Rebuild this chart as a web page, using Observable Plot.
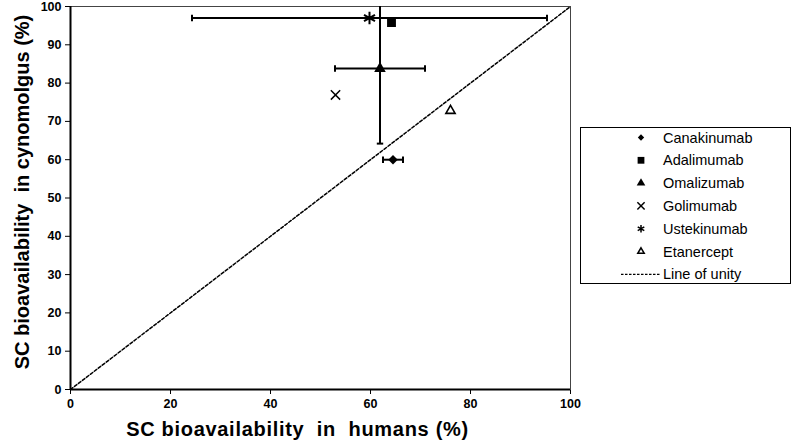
<!DOCTYPE html>
<html>
<head>
<meta charset="utf-8">
<script src="https://cdn.jsdelivr.net/npm/d3@7"></script>
<script src="https://cdn.jsdelivr.net/npm/@observablehq/plot@0.6"></script>
<style>
  html, body { margin: 0; padding: 0; background: #fff; }
  #wrap { position: relative; width: 793px; height: 446px; font-family: "Liberation Sans", Arial, sans-serif; }
  #wrap svg.plot text { white-space: pre; font-weight: bold; }
  #legend { position: absolute; left: 580px; top: 127px; width: 209px; height: 155px; border: 1.5px solid #000; box-sizing: content-box; }
  #legend svg { position: absolute; left: 0; top: 0; }
</style>
</head>
<body>
<div id="wrap"></div>
<script>
// ---- data ----
const drugs = ["Canakinumab", "Adalimumab", "Omalizumab", "Golimumab", "Ustekinumab", "Etanercept"];
const humanF = [64.5, 64.2, 61.9, 53.0, 59.8, 76.0];      // SC bioavailability in humans (%)
const cynoF = [60.0, 95.8, 83.8, 76.9, 97.0, 72.8];       // SC bioavailability in cynomolgus (%)
const humanErr = [2.0, 0, 9.0, 0, 35.5, 0];
const cynoErr = [0, 0, 19.6, 0, 0, 0];
const unity = [0, 100];
const xTicks = [0, 20, 40, 60, 80, 100];
const yTicks = [0, 10, 20, 30, 40, 50, 60, 70, 80, 90, 100];
const xTitle = "SC bioavailability  in  humans (%)";
const yTitle = "SC bioavailability  in cynomolgus (%)";
const legendLabels = [...drugs, "Line of unity"];

const rows = drugs.map((d, i) => ({drug: d, x: humanF[i], y: cynoF[i], ex: humanErr[i], ey: cynoErr[i]}));
const hBars = rows.filter(r => r.ex > 0);
const vBars = rows.filter(r => r.ey > 0);
const hCaps = hBars.flatMap(r => [{x: r.x - r.ex, y: r.y}, {x: r.x + r.ex, y: r.y}]);
const vCaps = vBars.flatMap(r => [{x: r.x, y: r.y - r.ey}, {x: r.x, y: r.y + r.ey}]).filter(c => c.y <= 100);

const vLine = {draw(ctx, size) { const h = Math.sqrt(size / Math.PI); ctx.moveTo(0, -h); ctx.lineTo(0, h); }};
const hLine = {draw(ctx, size) { const h = Math.sqrt(size / Math.PI); ctx.moveTo(-h, 0); ctx.lineTo(h, 0); }};

const byDrug = name => rows.filter(r => r.drug === name);

const chart = Plot.plot({
  width: 793,
  height: 446,
  marginLeft: 70,
  marginRight: 223,
  marginTop: 6,
  marginBottom: 57,
  style: {fontFamily: "'Liberation Sans', Arial, sans-serif", fontSize: "12.5px", color: "#000", background: "#fff"},
  x: {domain: [0, 100], ticks: xTicks, tickSize: 5, tickPadding: 5, label: null},
  y: {domain: [0, 100], ticks: yTicks, tickSize: 5, tickPadding: 4, label: null},
  marks: [
    Plot.frame({stroke: "#444", strokeWidth: 1}),
    Plot.line(unity, {x: d => d, y: d => d, stroke: "#000", strokeWidth: 1.5, strokeDasharray: "3,2"}),
    Plot.ruleY(hBars, {y: "y", x1: r => r.x - r.ex, x2: r => r.x + r.ex, stroke: "#000", strokeWidth: 2}),
    Plot.ruleX(vBars, {x: "x", y1: r => r.y - r.ey, y2: r => r.y + r.ey, stroke: "#000", strokeWidth: 2, clip: true}),
    Plot.dot(hCaps, {x: "x", y: "y", symbol: vLine, r: 3.2, stroke: "#000", strokeWidth: 2, fill: "none"}),
    Plot.dot(vCaps, {x: "x", y: "y", symbol: hLine, r: 3.2, stroke: "#000", strokeWidth: 2, fill: "none"}),
    Plot.dot(byDrug("Canakinumab"), {x: "x", y: "y", symbol: "diamond2", r: 4.3, fill: "#000", stroke: "none"}),
    Plot.dot(byDrug("Adalimumab"), {x: "x", y: "y", symbol: "square", r: 5, fill: "#000", stroke: "none"}),
    Plot.dot(byDrug("Omalizumab"), {x: "x", y: "y", symbol: "triangle", r: 4.3, fill: "#000", stroke: "none"}),
    Plot.dot(byDrug("Golimumab"), {x: "x", y: "y", symbol: "times", r: 4.3, stroke: "#000", strokeWidth: 1.5, fill: "none"}),
    Plot.dot(byDrug("Ustekinumab"), {x: "x", y: "y", symbol: "asterisk", r: 6, stroke: "#000", strokeWidth: 2, fill: "none"}),
    Plot.dot(byDrug("Etanercept"), {x: "x", y: "y", symbol: "triangle2", r: 4.4, stroke: "#000", strokeWidth: 1.6, fill: "#fff"}),
    Plot.ruleX([0], {stroke: "#000", strokeWidth: 2}),
    Plot.ruleY([0], {stroke: "#000", strokeWidth: 2}),
    Plot.text([xTitle], {frameAnchor: "bottom", dx: -23, dy: 40, fontSize: 20, fontWeight: "bold", textAnchor: "middle", lineAnchor: "middle"}),
    Plot.text([yTitle], {frameAnchor: "left", rotate: -90, dx: -48, dy: -6, fontSize: 20, fontWeight: "bold", textAnchor: "middle", lineAnchor: "middle"})
  ]
});
chart.classList.add("plot");
const wrap = document.getElementById("wrap");
wrap.appendChild(chart);
chart.style.position = "absolute";
chart.style.left = "0px";
chart.style.top = "0px";
d3.select(chart).selectAll("text").filter(function() { return this.textContent === xTitle; })
  .style("letter-spacing", "0.7px");

// ---- legend ----
const leg = document.createElement("div");
leg.id = "legend";
wrap.appendChild(leg);
const lw = 209, lh = 155;
const lsvg = d3.select(leg).append("svg").attr("width", lw).attr("height", lh);
const legendSymbols = [
  {type: d3.symbolDiamond2, size: 26, fill: "#000", stroke: "none"},
  {type: d3.symbolSquare, size: 46, fill: "#000", stroke: "none"},
  {type: d3.symbolTriangle, size: 32, fill: "#000", stroke: "none"},
  {type: d3.symbolTimes, size: 36, fill: "none", stroke: "#000"},
  {type: d3.symbolAsterisk, size: 40, fill: "none", stroke: "#000"},
  {type: d3.symbolTriangle2, size: 30, fill: "#fff", stroke: "#000"}
];
legendLabels.forEach((lab, i) => {
  const cy = 9.5 + i * 22.8;
  const g = lsvg.append("g");
  if (i < legendSymbols.length) {
    const s = legendSymbols[i];
    g.append("path")
      .attr("transform", `translate(60,${cy})`)
      .attr("d", d3.symbol(s.type, s.size)())
      .attr("fill", s.fill).attr("stroke", s.stroke).attr("stroke-width", 1.5);
  } else {
    g.append("line").attr("x1", 40).attr("x2", 80).attr("y1", cy).attr("y2", cy)
      .attr("stroke", "#000").attr("stroke-width", 1.2).attr("stroke-dasharray", "2.5,1.5");
  }
  g.append("text").attr("x", 82).attr("y", cy).attr("dy", "0.35em")
    .attr("font-family", "'Liberation Sans', Arial, sans-serif").attr("font-size", 14.5)
    .text(lab);
});
</script>
</body>
</html>
